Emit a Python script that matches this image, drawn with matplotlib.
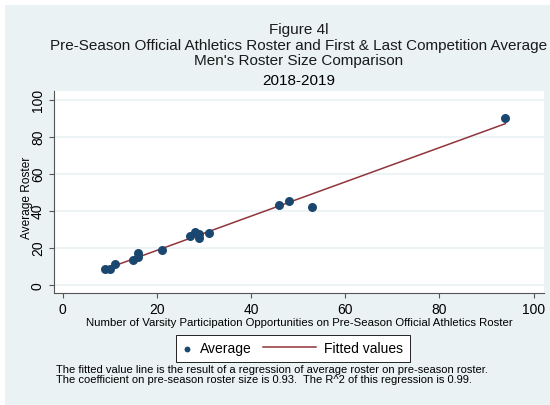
import matplotlib.pyplot as plt
import matplotlib.patches as mpatches
from matplotlib.lines import Line2D
from matplotlib.legend_handler import HandlerLine2D
import numpy as np

# pre-season roster (x) vs average of first & last competition roster (y)
preseason = [9, 10, 11, 15, 16, 16, 21, 27, 28, 29, 29, 31, 46, 48, 53, 94]
average = [8.5, 8.5, 11.2, 13.5, 17.0, 15.1, 18.9, 26.2, 28.3, 27.2, 25.4, 27.9, 42.9, 45.1, 42.0, 89.9]

x_ticks = [0, 20, 40, 60, 80, 100]
y_ticks = [0, 20, 40, 60, 80, 100]

bg = '#EAF2F3'
navy = '#1A476F'
maroon = '#90353B'


class LongLine(HandlerLine2D):
    # stata draws the line key wider than the marker key
    def create_artists(self, legend, orig_handle, xdescent, ydescent, width, height, fontsize, trans):
        y = (height - ydescent) / 2
        ln = Line2D([-xdescent - 31, width - xdescent], [y, y])
        self.update_prop(ln, orig_handle, legend)
        ln.set_transform(trans)
        return [ln]


plt.rcParams['font.family'] = ['Liberation Sans', 'DejaVu Sans']

fig = plt.figure(figsize=(5.5, 4.06), dpi=100, facecolor='white')
fig.patches.append(mpatches.Rectangle((5 / 550, 0), 1, 1 - 6 / 406, transform=fig.transFigure,
                                      facecolor=bg, edgecolor='none', zorder=-10))

ax = fig.add_axes([54 / 550, 1 - 294 / 406, 490 / 550, 202 / 406])
ax.set_facecolor('white')

# regression line
slope, intercept = np.polyfit(preseason, average, 1)
xs = np.array([min(preseason), max(preseason)])
line, = ax.plot(xs, intercept + slope * xs, color=maroon, lw=1.1, zorder=2)
pts = ax.scatter(preseason, average, s=42, color=navy, zorder=3, linewidths=0)

ax.set_xlim(-1.85, 102.2)
ax.set_ylim(-4.5, 104.7)
ax.set_xticks(x_ticks)
ax.set_yticks(y_ticks)
ax.grid(axis='y', color=bg, lw=1.2)
ax.set_axisbelow(True)
for s in ['top', 'right']:
    ax.spines[s].set_visible(False)
for s in ['left', 'bottom']:
    ax.spines[s].set_color('#555555')
    ax.spines[s].set_linewidth(0.8)
ax.tick_params(colors='#555555', labelcolor='black', length=3.5, width=0.8, labelsize=10, pad=3)
plt.setp(ax.get_yticklabels(), rotation=90, va='center')

ax.set_xlabel('Number of Varsity Participation Opportunities on Pre-Season Official Athletics Roster',
              fontsize=8.2, labelpad=1)
ax.set_ylabel('Average Roster', fontsize=8.6)
ax.yaxis.set_label_coords(-0.043, 0.475)

title_kw = dict(ha='center', va='center', fontsize=11, color='#1a1a1a')
fig.text(299 / 550, 1 - 30 / 406, 'Figure 4l', **title_kw)
fig.text(299 / 550, 1 - 46 / 406, 'Pre-Season Official Athletics Roster and First & Last Competition Average',
         **title_kw)
fig.text(299 / 550, 1 - 61 / 406, "Men's Roster Size Comparison", **title_kw)
fig.text(299 / 550, 1 - 81 / 406, '2018-2019', ha='center', va='center', fontsize=11, color='black')

leg = fig.legend([pts, line], ['Average', 'Fitted values'], loc='upper left', ncol=2,
                 bbox_to_anchor=(176 / 550, 1 - 336 / 406), borderaxespad=0,
                 fontsize=10, frameon=True, fancybox=False, edgecolor='black', facecolor='white',
                 framealpha=1, handlelength=0.72, handletextpad=0.58, columnspacing=3.9,
                 borderpad=0.45, scatterpoints=1, markerscale=0.65,
                 handler_map={Line2D: LongLine()})
leg.get_frame().set_linewidth(0.6)

fig.text(56 / 550, 1 - 375 / 406,
         'The fitted value line is the result of a regression of average roster on pre-season roster.\n'
         'The coefficient on pre-season roster size is 0.93.  The R^2 of this regression is 0.99.',
         ha='left', va='center', fontsize=8, linespacing=1.0)

fig.savefig('out.png', dpi=100, facecolor='white')
